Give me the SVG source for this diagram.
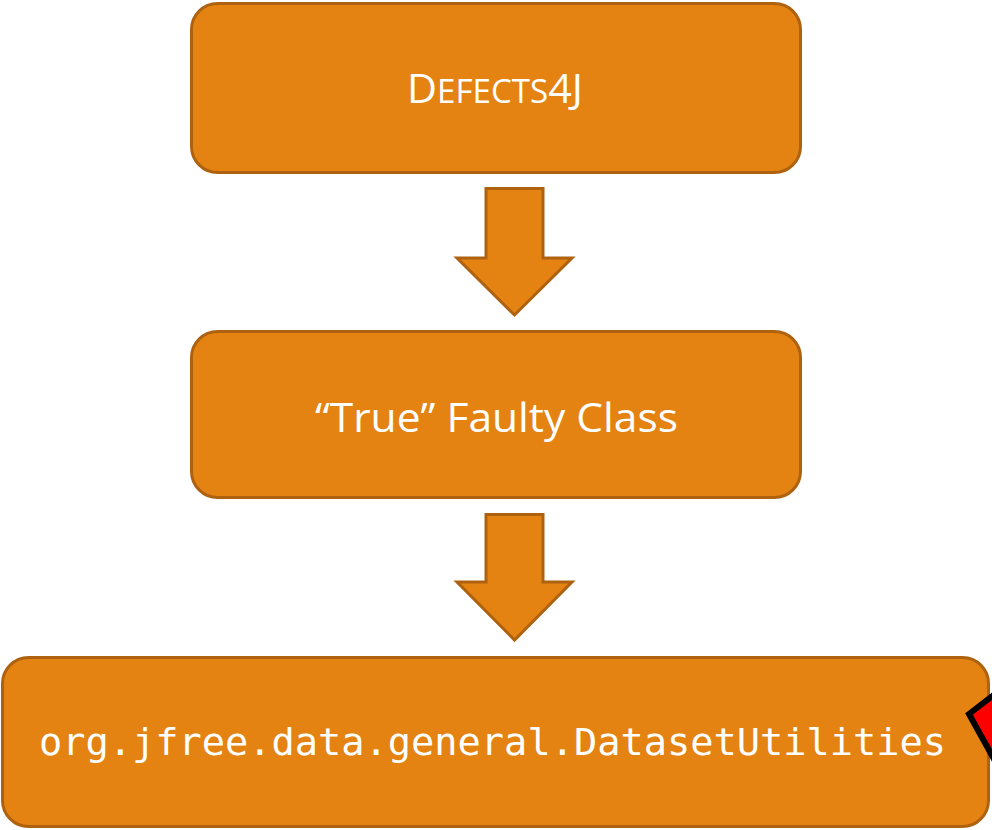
<svg xmlns="http://www.w3.org/2000/svg" width="992" height="830" viewBox="0 0 992 830">
<style>
.box{fill:#E48312;stroke:#AE6210;stroke-width:3}
.arr{fill:#E48312;stroke:#AE6210;stroke-width:3;stroke-linejoin:miter}
.t{fill:#FFFFFF;font-family:"Open Sans","Liberation Sans",sans-serif}
.m{fill:#FFFFFF;font-family:"DejaVu Sans Mono","Liberation Mono",monospace}
</style>
<rect width="992" height="830" fill="#FFFFFF"/>
<g id="defects4j">
<rect class="box" x="191.5" y="3.5" width="609" height="169" rx="26"/>
<text class="t" x="407" y="103" textLength="176" lengthAdjust="spacingAndGlyphs"><tspan font-size="40">D</tspan><tspan font-size="32">EFECTS</tspan><tspan font-size="40">4J</tspan></text>
</g>
<g id="true-faulty-class">
<rect class="box" x="191.5" y="331.5" width="609" height="166" rx="26"/>
<text class="t" x="315" y="432" font-size="40" textLength="363" lengthAdjust="spacingAndGlyphs">“True” Faulty Class</text>
</g>
<g id="dataset-utilities">
<rect class="box" x="2.5" y="657.5" width="986" height="169" rx="26"/>
<text class="m" x="39" y="755" font-size="38" textLength="907" lengthAdjust="spacingAndGlyphs">org.jfree.data.general.DatasetUtilities</text>
</g>
<g id="marker">
<polygon points="969,714 1000,690 1000,770" fill="#FF0000" stroke="#000000" stroke-width="6" stroke-linejoin="miter"/>
</g>
<g id="connectors">
<polygon class="arr" points="486,188.5 543,188.5 543,258 572,258 514.5,315 457,258 486,258"/>
<polygon class="arr" points="486,514.5 543,514.5 543,582 572,582 514.5,640 457,582 486,582"/>
</g>
</svg>
